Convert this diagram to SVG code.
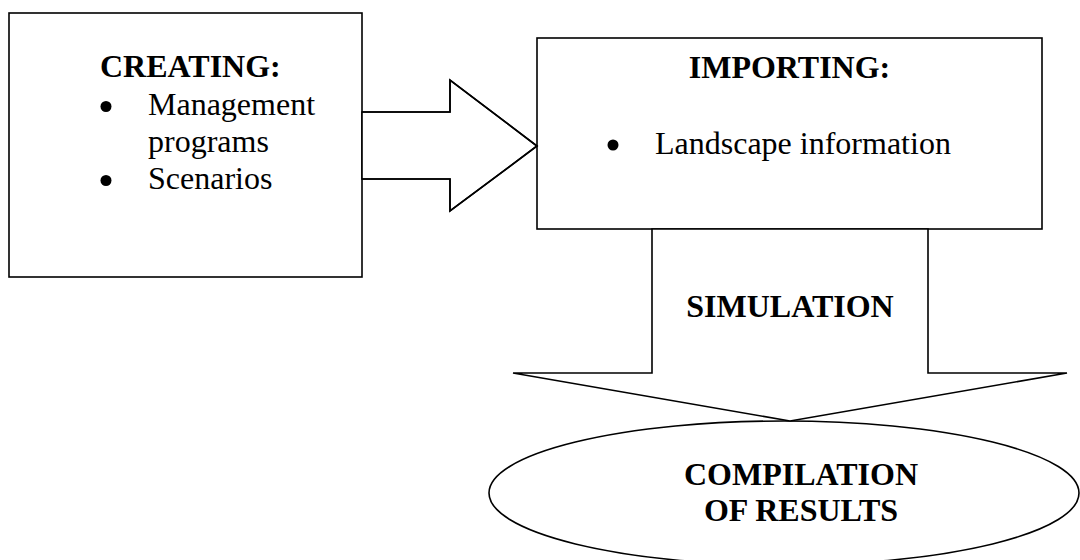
<svg xmlns="http://www.w3.org/2000/svg" width="1080" height="560" viewBox="0 0 1080 560">
<style>
.shape{fill:#fff;stroke:#000;stroke-width:1.6;stroke-linejoin:miter}
.line{fill:none;stroke:#000;stroke-width:1.6;stroke-linejoin:miter}
.t{font-family:"Liberation Serif","Times New Roman",serif;font-size:32px;fill:#000}
.b{font-weight:bold}
.dot{fill:#000}
</style>
<rect width="1080" height="560" fill="#fff"/>
<g id="creating">
<rect class="shape" x="9" y="13" width="353" height="264"/>
<text class="t b" x="100" y="77">CREATING:</text>
<circle class="dot" cx="106" cy="106.5" r="5.5"/>
<text class="t" x="148" y="115">Management</text>
<text class="t" x="148" y="152">programs</text>
<circle class="dot" cx="106" cy="180.5" r="5.5"/>
<text class="t" x="148" y="189">Scenarios</text>
</g>
<g id="importing">
<rect class="shape" x="537" y="38" width="505" height="191"/>
<text class="t b" x="789.5" y="78" text-anchor="middle">IMPORTING:</text>
<circle class="dot" cx="613" cy="145" r="5.5"/>
<text class="t" x="655" y="154">Landscape information</text>
</g>
<g id="compilation">
<ellipse class="shape" cx="784" cy="493" rx="295" ry="72"/>
<text class="t b" x="801" y="485" text-anchor="middle">COMPILATION</text>
<text class="t b" x="801" y="521" text-anchor="middle">OF RESULTS</text>
</g>
<g id="connectors">
<polygon class="shape" points="362,112 450,112 450,80 537,146 450,211 450,179 362,179" stroke="none"/>
<polyline class="line" points="362,112 450,112 450,80 537,146 450,211 450,179 362,179"/>
<polygon class="shape" points="652,229 652,373 513,373 790,421 1067,373 928,373 928,229"/>
<text class="t b" x="790" y="317" text-anchor="middle">SIMULATION</text>
</g>
</svg>
